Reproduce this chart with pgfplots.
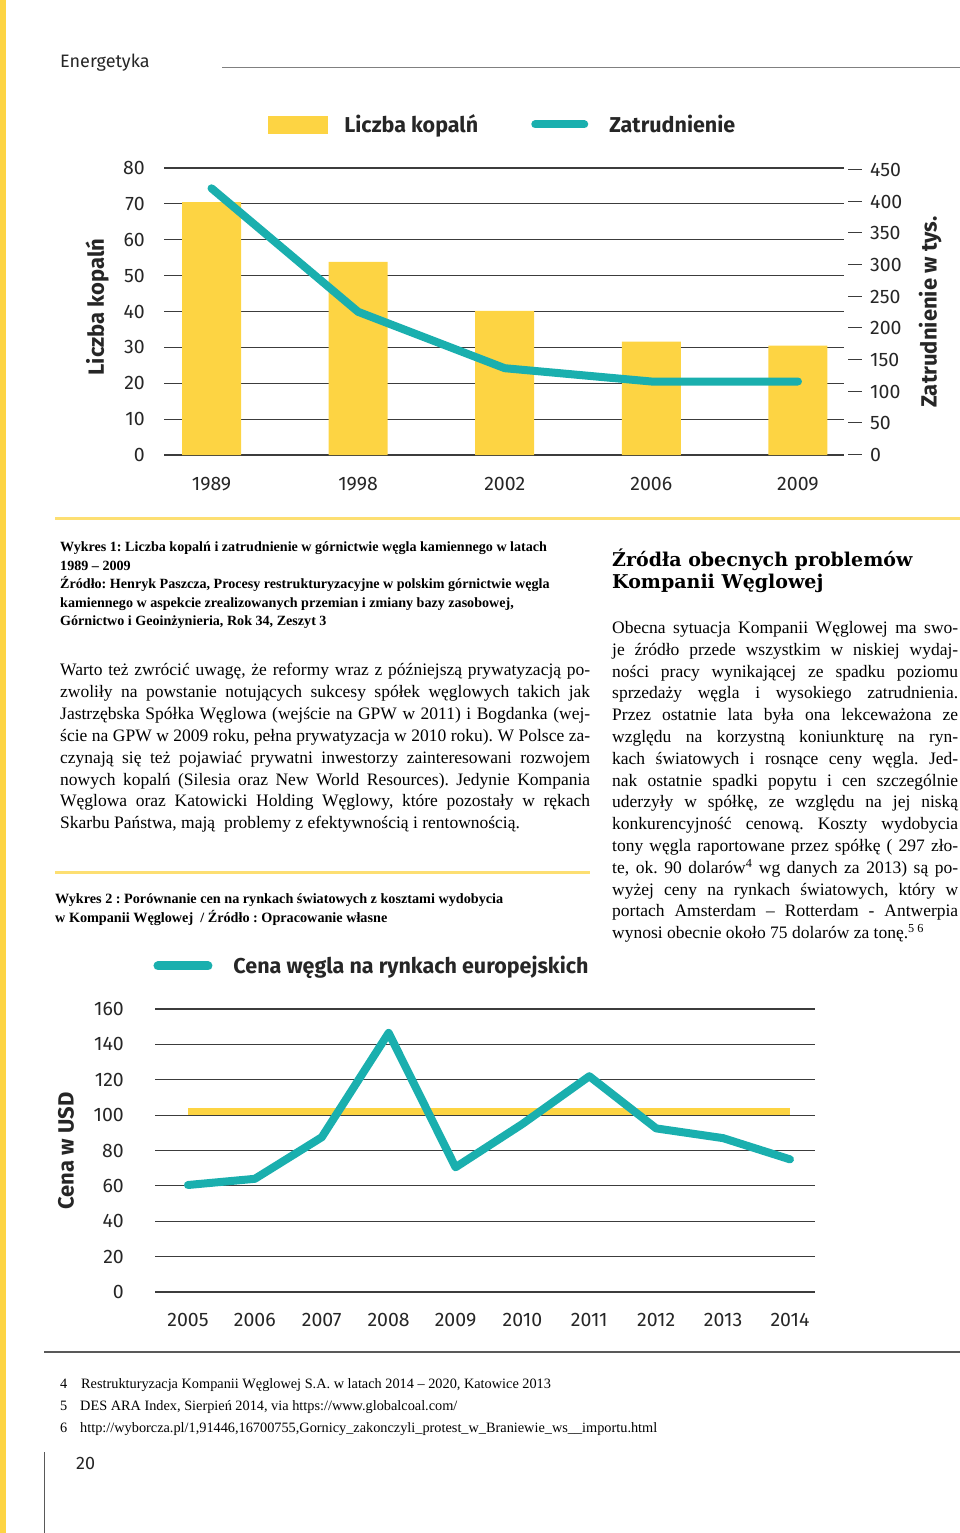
\documentclass[border=0pt]{standalone}
\usepackage{pgfplots}
\pgfplotsset{compat=1.18}
\usepackage{fontspec}
\setmainfont{Liberation Serif}
\newfontfamily\chartfont{Fira Sans}
\newfontfamily\slabfont{DejaVu Serif}
\definecolor{ky}{HTML}{FDD443}
\definecolor{kt}{HTML}{1AAFAE}
\definecolor{gridc}{HTML}{3C3C3C}
\newcommand\jl[1]{\makebox[\linewidth][s]{#1}\\}
\frenchspacing
\begin{document}
\begin{tikzpicture}
\path[use as bounding box] (0pt,0pt) rectangle (960pt,-1533pt);
\fill[ky] (0pt,0pt) rectangle (6pt,-1533pt);
% header
\node[anchor=base west, inner sep=0pt, font=\chartfont\fontsize{18}{20}\selectfont, text=black!85] at (60pt,-68pt) {Energetyka};
\draw[black!50, line width=1pt] (222pt,-68pt) -- (960pt,-68pt);

% ---------------- chart 1 ----------------
\begin{axis}[
  at={(164pt,-455pt)}, anchor=south west, scale only axis,
  width=680pt, height=287pt,
  xmin=-0.324, xmax=4.314, ymin=0, ymax=80,
  ytick={0,10,...,80}, xtick={0,1,2,3,4},
  xticklabels={1989,1998,2002,2006,2009},
  ymajorgrids, grid style={gridc, line width=1.1pt},
  axis line style={draw=none}, major tick length=0pt,
  tick label style={font=\chartfont\fontsize{19.5}{21}\selectfont, text=black!85},
  /pgf/number format/assume math mode=true,
  yticklabel style={anchor=east, inner sep=0pt, xshift=-19pt},
  xticklabel style={anchor=center, inner sep=0pt, yshift=-29pt},
  ylabel={Liczba kopalń},
  ylabel style={font=\chartfont\bfseries\fontsize{22}{24}\selectfont, text=black!85, at={(axis description cs:-0.0985,0.516)}, anchor=center},
]
\addplot[ybar, bar width=59pt, fill=ky, draw=none] coordinates {(0,70.5) (1,53.8) (2,40.2) (3,31.6) (4,30.5)};
\end{axis}
\begin{axis}[
  at={(164pt,-455pt)}, anchor=south west, scale only axis,
  width=680pt, height=287pt,
  xmin=-0.324, xmax=4.314, ymin=0, ymax=453,
  hide x axis, axis y line*=right,
  axis line style={draw=none}, major tick length=0pt,
  ytick={0,50,...,450},
  tick label style={font=\chartfont\fontsize{19.5}{21}\selectfont, text=black!85},
  /pgf/number format/assume math mode=true,
  yticklabel={\textcolor{gridc}{\rule[6.5pt]{14pt}{1pt}}\hspace{8pt}\pgfmathprintnumber{\tick}},
  yticklabel style={anchor=west, inner sep=0pt, xshift=4pt},
  ylabel={Zatrudnienie w tys.},
  ylabel style={font=\chartfont\bfseries\fontsize{22}{24}\selectfont, text=black!85, at={(axis description cs:1.1265,0.498)}, anchor=center, rotate=0},
  legend columns=-1,
  legend style={at={(axis description cs:0.1529,1.1516)}, anchor=west, draw=none, fill=none, inner sep=0pt, outer sep=0pt,
    font=\chartfont\bfseries\fontsize{21.5}{23}\selectfont, text=black!85,
    nodes={inner sep=0pt},
    /tikz/column 1/.style={column sep=17pt},
    /tikz/column 2/.style={column sep=53pt},
    /tikz/column 3/.style={column sep=21pt}},
  legend cell align=left,
]
\addlegendimage{legend image code/.code={\fill[ky] (0pt,-8.5pt) rectangle (59pt,8.5pt);}}
\addlegendentry{Liczba kopalń}
\addplot[kt, line width=8pt, line join=round, line cap=round,
  legend image code/.code={\draw[kt, line width=8pt, line cap=round] (4pt,0pt) -- (53pt,0pt);}]
  coordinates {(0,421) (1,226) (2,137) (3,116) (4,116)};
\addlegendentry{Zatrudnienie}
\end{axis}
\draw[ky!75, line width=3pt] (55pt,-518pt) -- (960pt,-518pt);

% caption 1
\node[anchor=base west, inner sep=0pt] at (60pt,-551.5pt) {\parbox[t]{560pt}{\fontsize{14.1}{18.5}\selectfont\bfseries
Wykres 1: Liczba kopalń i zatrudnienie w górnictwie węgla kamiennego w latach\\
1989 – 2009\\
Źródło: Henryk Paszcza, Procesy restrukturyzacyjne w polskim górnictwie węgla\\
kamiennego w aspekcie zrealizowanych przemian i zmiany bazy zasobowej,\\
Górnictwo i Geoinżynieria, Rok 34, Zeszyt 3}};

% left body text
\node[anchor=base west, inner sep=0pt] at (60pt,-675.5pt) {\parbox[t]{530pt}{\fontsize{17.5}{21.9}\selectfont
\jl{Warto też zwrócić uwagę, że reformy wraz z późniejszą prywatyzacją po-}
\jl{zwoliły na powstanie notujących sukcesy spółek węglowych takich jak}
\jl{Jastrzębska Spółka Węglowa (wejście na GPW w 2011) i Bogdanka (wej-}
\jl{ście na GPW w 2009 roku, pełna prywatyzacja w 2010 roku). W Polsce za-}
\jl{czynają się też pojawiać prywatni inwestorzy zainteresowani rozwojem}
\jl{nowych kopalń (Silesia oraz New World Resources). Jedynie Kompania}
\jl{Węglowa oraz Katowicki Holding Węglowy, które pozostały w rękach}
Skarbu Państwa, mają~ problemy z efektywnością i rentownością.}};

\draw[ky!75, line width=3pt] (55pt,-872pt) -- (590pt,-872pt);

% caption 2
\node[anchor=base west, inner sep=0pt] at (55pt,-903.5pt) {\parbox[t]{560pt}{\fontsize{14.2}{19}\selectfont\bfseries
Wykres 2 : Porównanie cen na rynkach światowych z kosztami wydobycia\\
w Kompanii Węglowej~ / Źródło : Opracowanie własne}};

% right column heading
\node[anchor=base west, inner sep=0pt] at (612pt,-566pt) {\parbox[t]{346pt}{\fontsize{19}{22}\selectfont\slabfont\bfseries
Źródła obecnych problemów\\
Kompanii Węglowej}};

% right column text
\node[anchor=base west, inner sep=0pt] at (612pt,-633.5pt) {\parbox[t]{346pt}{\fontsize{17.5}{21.8}\selectfont
\jl{Obecna sytuacja Kompanii Węglowej ma swo-}
\jl{je źródło przede wszystkim w niskiej wydaj-}
\jl{ności pracy wynikającej ze spadku poziomu}
\jl{sprzedaży węgla i wysokiego zatrudnienia.}
\jl{Przez ostatnie lata była ona lekceważona ze}
\jl{względu na korzystną koniunkturę na ryn-}
\jl{kach światowych i rosnące ceny węgla. Jed-}
\jl{nak ostatnie spadki popytu i cen szczególnie}
\jl{uderzyły w spółkę, ze względu na jej niską}
\jl{konkurencyjność cenową. Koszty wydobycia}
\jl{tony węgla raportowane przez spółkę ( 297 zło-}
\jl{te, ok. 90 dolarów\textsuperscript{4} wg danych za 2013) są po-}
\jl{wyżej ceny na rynkach światowych, który w}
\jl{portach Amsterdam – Rotterdam - Antwerpia}
wynosi obecnie około 75 dolarów za tonę.\textsuperscript{5 6}}};

% ---------------- chart 2 ----------------
\begin{axis}[
  at={(155pt,-1292pt)}, anchor=south west, scale only axis,
  width=660pt, height=283pt,
  xmin=-0.493, xmax=9.374, ymin=0, ymax=160,
  ytick={0,20,...,160}, xtick={0,1,...,9},
  xticklabels={2005,2006,2007,2008,2009,2010,2011,2012,2013,2014},
  ymajorgrids, grid style={gridc, line width=1.1pt},
  axis line style={draw=none}, major tick length=0pt,
  tick label style={font=\chartfont\fontsize{19.5}{21}\selectfont, text=black!85},
  /pgf/number format/assume math mode=true,
  yticklabel style={anchor=east, inner sep=0pt, xshift=-31pt},
  xticklabel style={anchor=center, inner sep=0pt, yshift=-28pt},
  ylabel={Cena w USD},
  ylabel style={font=\chartfont\bfseries\fontsize{22}{24}\selectfont, text=black!85, at={(axis description cs:-0.1348,0.498)}, anchor=center},
  legend columns=-1,
  legend style={at={(axis description cs:-0.0023,1.152)}, anchor=west, draw=none, fill=none, inner sep=0pt, outer sep=0pt,
    font=\chartfont\bfseries\fontsize{21.5}{23}\selectfont, text=black!85,
    nodes={inner sep=0pt},
    /tikz/column 1/.style={column sep=21pt}},
  legend cell align=left,
]
\addplot[ky, line width=7pt, forget plot] coordinates {(0,102) (9,102)};
\addplot[kt, line width=8pt, line join=round, line cap=round,
  legend image code/.code={\draw[kt, line width=9pt, line cap=round] (4.5pt,0pt) -- (54.5pt,0pt);}]
  coordinates {(0,60.5) (1,64) (2,87.5) (3,146.5) (4,70.5) (5,95) (6,122) (7,92.5) (8,87) (9,75)};
\addlegendentry{Cena węgla na rynkach europejskich}
\end{axis}

% footer
\draw[black!65, line width=1.2pt] (44pt,-1352pt) -- (960pt,-1352pt);
\node[anchor=base west, inner sep=0pt, font=\fontsize{14.3}{16}\selectfont] at (60pt,-1388.5pt) {4};
\node[anchor=base west, inner sep=0pt, font=\fontsize{14.3}{16}\selectfont] at (81pt,-1388.5pt) {Restrukturyzacja Kompanii Węglowej S.A. w latach 2014 – 2020, Katowice 2013};
\node[anchor=base west, inner sep=0pt, font=\fontsize{14.3}{16}\selectfont] at (60pt,-1410.5pt) {5};
\node[anchor=base west, inner sep=0pt, font=\fontsize{14.3}{16}\selectfont] at (80pt,-1410.5pt) {DES ARA Index, Sierpień 2014, via https://www.globalcoal.com/};
\node[anchor=base west, inner sep=0pt, font=\fontsize{14.3}{16}\selectfont] at (60pt,-1432.5pt) {6};
\node[anchor=base west, inner sep=0pt, font=\fontsize{14.3}{16}\selectfont] at (80pt,-1432.5pt) {http://wyborcza.pl/1,91446,16700755,Gornicy\_zakonczyli\_protest\_w\_Braniewie\_ws\_\_importu.html};
\draw[black!65, line width=1pt] (44pt,-1452pt) -- (44pt,-1533pt);
\node[anchor=base west, inner sep=0pt, font=\chartfont\fontsize{18}{20}\selectfont, text=black!85] at (76pt,-1469.5pt) {20};
\end{tikzpicture}
\end{document}
